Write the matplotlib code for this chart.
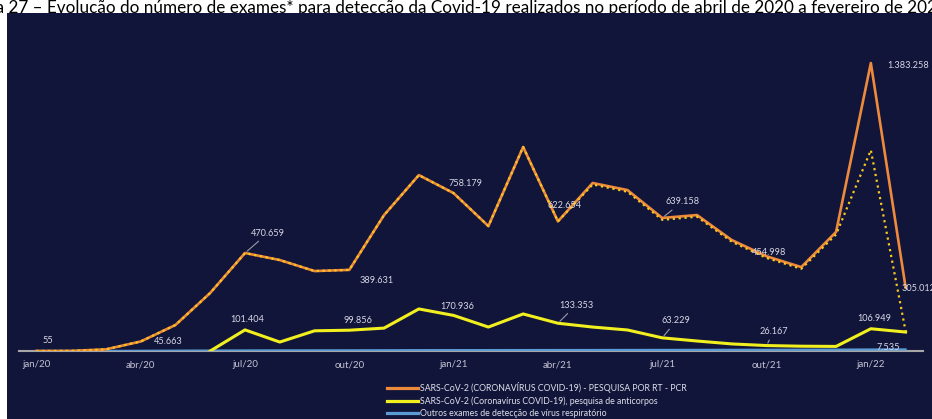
import matplotlib
matplotlib.use("Agg")
import matplotlib.pyplot as plt
import numpy as np
from matplotlib.patches import Rectangle

plt.rcParams['font.family'] = ['Lato', 'DejaVu Sans']

MESES = ['jan/20', 'fev/20', 'mar/20', 'abr/20', 'mai/20', 'jun/20',
         'jul/20', 'ago/20', 'set/20', 'out/20', 'nov/20', 'dez/20',
         'jan/21', 'fev/21', 'mar/21', 'abr/21', 'mai/21', 'jun/21',
         'jul/21', 'ago/21', 'set/21', 'out/21', 'nov/21', 'dez/21',
         'jan/22', 'fev/22']
TICKS = list(range(0, 26, 3))

# exames por mês
rt_pcr = [55, 500, 8000, 45663, 125000, 279000, 470659, 437000, 384000,
          389631, 653000, 845000, 758179, 600000, 980000, 622654, 807000,
          773000, 639158, 653000, 533000, 454998, 403000, 572000, 1383258,
          305012]
rt_pcr_pontilhado = [55, 500, 8000, 45663, 125000, 279000, 470659, 437000,
                     384000, 389631, 653000, 845000, 758179, 600000, 980000,
                     622654, 800000, 765000, 630000, 645000, 525000, 447000,
                     395000, 560000, 965000, 95000]
anticorpos = [np.nan, np.nan, np.nan, np.nan, np.nan, 0, 101404, 43000,
              97000, 99856, 110000, 202000, 170936, 115000, 178000, 133353,
              115000, 101000, 63229, 48000, 34000, 26167, 23000, 22000,
              106949, 91000]
outros = [0, 0, 200, 800, 1500, 2000, 2500, 2800, 3000, 3200, 3500, 4000,
          4200, 4300, 4500, 4600, 4800, 5000, 5200, 5400, 5600, 5800, 6000,
          6500, 7200, 7535]

LEGENDA = ['SARS-CoV-2 (CORONAVÍRUS COVID-19) - PESQUISA POR RT - PCR',
           'SARS-CoV-2 (Coronavírus COVID-19), pesquisa de anticorpos',
           'Outros exames de detecção de vírus respiratório']
TITULO = ('Figura 27 – Evolução do número de exames* para detecção da '
          'Covid-19 realizados no período de abril de 2020 a fevereiro de 2022')

NAVY = '#11153a'
LARANJA = '#ee8a3c'
AMARELO = '#f2ef1f'
AZUL = '#5b9bd5'
TXT = '#d9d9e6'

W, H = 932, 419
fig = plt.figure(figsize=(W / 100, H / 100), dpi=100)
fig.patch.set_facecolor('white')

# faixa do título (parcialmente coberta pelo painel)
titulo = fig.text(0, 1 - 13 / H, TITULO, ha='left', va='baseline',
                  fontsize=11, color='black', zorder=-2)
r = fig.canvas.get_renderer()
prefixo = fig.text(0, 0, 'Figura 27 – ', fontsize=11)
resto = fig.text(0, 0, TITULO[len('Figura 27 – '):len('Figura 27 – ') + 113],
                 fontsize=11)
w_pre = prefixo.get_window_extent(r).width
w_res = resto.get_window_extent(r).width
prefixo.remove()
resto.remove()
esc = 885 / w_res
titulo.set_fontsize(11 * esc)
titulo.set_x((47 - w_pre * esc) / W)

fig.patches.append(Rectangle((7 / W, 0), 1 - 7 / W, 406 / H,
                             transform=fig.transFigure, facecolor=NAVY,
                             edgecolor='none', zorder=-1))

ax = fig.add_axes([19 / W, 68 / H, 904 / W, 331 / H])
ax.patch.set_alpha(0)
x = np.arange(len(MESES))

l_out, = ax.plot(x, outros, color=AZUL, lw=1.6, zorder=3)
l_ant, = ax.plot(x, anticorpos, color=AMARELO, lw=2.2, zorder=3)
l_pcr, = ax.plot(x, rt_pcr, color=LARANJA, lw=1.9, zorder=3)
ax.plot(x, rt_pcr_pontilhado, color='#f7c81e', lw=1.6, ls=':', zorder=4)

ax.set_xlim(-0.5, 25.5)
ax.set_ylim(0, 1.59e6)
for s in ['top', 'right', 'left']:
    ax.spines[s].set_visible(False)
ax.spines['bottom'].set_color('#a6a6a6')
ax.spines['bottom'].set_linewidth(1.5)
ax.set_yticks([])
ax.set_xticks(TICKS)
ax.set_xticklabels([MESES[i] for i in TICKS])
ax.tick_params(axis='x', length=0, pad=6.5, labelsize=7, labelcolor='#c4c4d4')


def fmt(v):
    return f'{int(v):,}'.replace(',', '.')


def rotulo(serie, i, dx, dy, ha='center', guia=False, cor=TXT):
    v = serie[i]
    props = None
    if guia:
        props = dict(arrowstyle='-', color='#9a9aaa', lw=0.8,
                     shrinkA=1, shrinkB=2)
    ax.annotate(fmt(v), xy=(i, v), xytext=(dx, dy), textcoords='offset pixels',
                ha=ha, va='center', fontsize=6.6, color=cor,
                arrowprops=props, zorder=6)


rotulo(rt_pcr, 0, 11, 10)
rotulo(rt_pcr, 3, 28, 0)
rotulo(rt_pcr, 6, 23, 20, guia=True)
rotulo(rt_pcr, 9, 27, -11)
rotulo(rt_pcr, 12, 12, 10)
rotulo(rt_pcr, 15, 7, 16)
rotulo(rt_pcr, 18, 20, 16, guia=True)
rotulo(rt_pcr, 21, 3, 4)
rotulo(rt_pcr, 24, 16, -2, ha='left')
rotulo(rt_pcr, 25, -4, -1, ha='left')

rotulo(anticorpos, 6, 2, 10)
rotulo(anticorpos, 9, 9, 10)
rotulo(anticorpos, 12, 4, 9)
rotulo(anticorpos, 15, 18, 18, guia=True)
rotulo(anticorpos, 18, 14, 17, guia=True)
rotulo(anticorpos, 21, 7, 14, guia=True)
rotulo(anticorpos, 24, 3, 10)
rotulo(outros, 25, -17, 2)

leg = fig.legend([l_pcr, l_ant, l_out], LEGENDA, loc='upper left',
                 bbox_to_anchor=(387 / W, 1 - 382 / H),
                 bbox_transform=fig.transFigure, frameon=False, fontsize=6.3,
                 labelcolor='#e0e0ea', handlelength=3.5, handletextpad=0.25,
                 labelspacing=0.38, borderpad=0, borderaxespad=0)
for lh in leg.get_lines():
    lh.set_linewidth(2.3)

fig.savefig('out.png', dpi=100)
